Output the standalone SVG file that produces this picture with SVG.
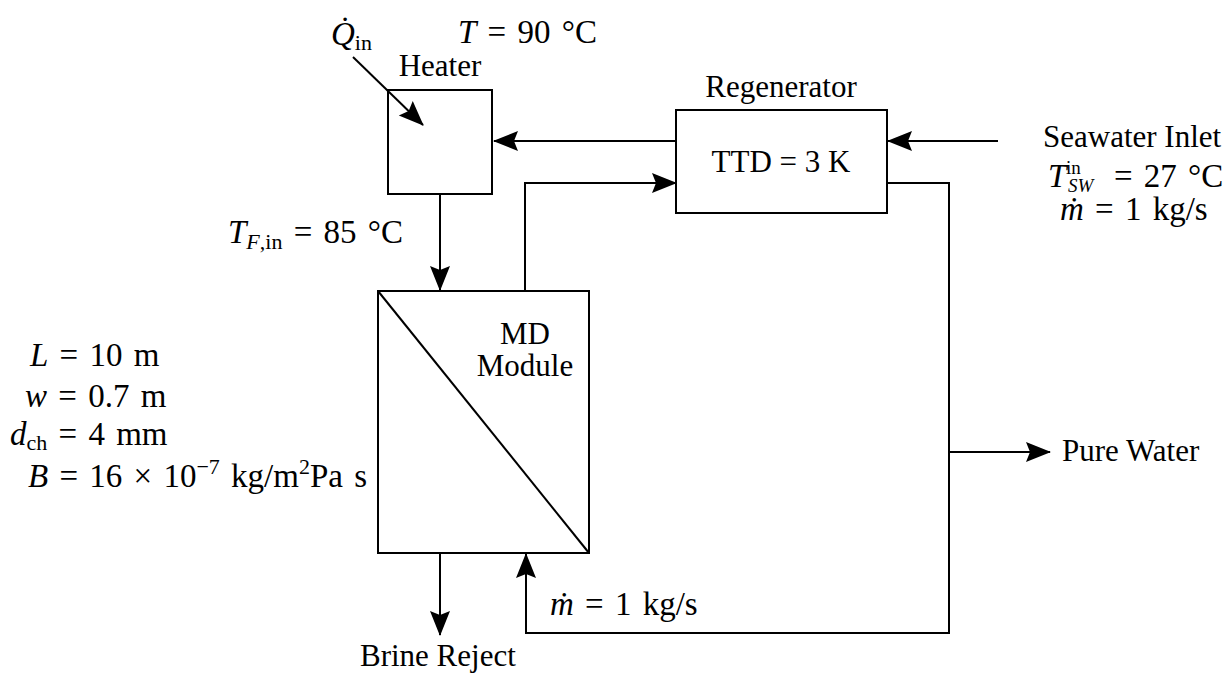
<svg xmlns="http://www.w3.org/2000/svg" width="1227" height="675" viewBox="0 0 1227 675">
<style>
.box{fill:#fff;stroke:#000;stroke-width:2}
.ln{fill:none;stroke:#000;stroke-width:2}
text{font-family:"Liberation Serif","DejaVu Serif",serif;font-size:31px;fill:#000}
.m{font-size:33px;word-spacing:3px}
.i{font-style:italic}
.s{font-size:22px}
.ss{font-size:19px}
</style>
<defs>
<marker id="ah" markerUnits="userSpaceOnUse" markerWidth="28" markerHeight="24" viewBox="-26 -12 27 24" refX="0" refY="0" orient="auto">
<path d="M1,0 L-24,-10 L-20,0 L-24,10 Z" fill="#000"/>
</marker>
</defs>
<rect width="1227" height="675" fill="#fff"/>
<g id="heater">
<rect class="box" x="388" y="90" width="104" height="104"/>
<text x="440" y="76" text-anchor="middle">Heater</text>
</g>
<g id="regenerator">
<rect class="box" x="676" y="110" width="211" height="103"/>
<text x="781" y="97" text-anchor="middle">Regenerator</text>
<text x="781" y="172" text-anchor="middle">TTD = 3 K</text>
</g>
<g id="md-module">
<rect class="box" x="378" y="291" width="211" height="262"/>
<line class="ln" x1="378" y1="291" x2="589" y2="553"/>
<text x="525" y="344" text-anchor="middle">MD</text>
<text x="525" y="376" text-anchor="middle">Module</text>
</g>
<g id="connectors">
<path class="ln" d="M353,57 L423,125" marker-end="url(#ah)"/>
<path class="ln" d="M676,141 H494" marker-end="url(#ah)"/>
<path class="ln" d="M998,141 H888" marker-end="url(#ah)"/>
<path class="ln" d="M440,194 V290" marker-end="url(#ah)"/>
<path class="ln" d="M525,290 V183 H676" marker-end="url(#ah)"/>
<path class="ln" d="M887,183 H949 V633 H526 V554" marker-end="url(#ah)"/>
<path class="ln" d="M949,452 H1050" marker-end="url(#ah)"/>
<path class="ln" d="M440,553 V635" marker-end="url(#ah)"/>
</g>
<g id="labels">
<text class="m" x="331" y="45"><tspan class="i">Q̇</tspan><tspan class="s" dy="5">in</tspan></text>
<text class="m" x="458" y="43"><tspan class="i">T</tspan> = 90 °C</text>
<text class="m" x="228" y="243"><tspan class="i">T</tspan><tspan class="s" dy="6"><tspan class="i">F</tspan>,in</tspan><tspan dy="-6"> = 85 °C</tspan></text>
<text x="1043" y="147">Seawater Inlet</text>
<text class="m" x="1048" y="187"><tspan class="i">T</tspan><tspan class="ss i" x="1068" dy="5">SW</tspan><tspan class="ss" x="1066" dy="-18">in</tspan><tspan x="1114" dy="13">= 27 °C</tspan></text>
<text class="m" x="1060" y="220"><tspan class="i">ṁ</tspan> = 1 kg/s</text>
<text x="1062" y="461">Pure Water</text>
<text x="360" y="666">Brine Reject</text>
<text class="m" x="550" y="615"><tspan class="i">ṁ</tspan> = 1 kg/s</text>
<text class="m" x="30" y="366"><tspan class="i">L</tspan> = 10 m</text>
<text class="m" x="25" y="407"><tspan class="i">w</tspan> = 0.7 m</text>
<text class="m" x="10" y="445"><tspan class="i">d</tspan><tspan class="s" dy="5">ch</tspan><tspan dy="-5"> = 4 mm</tspan></text>
<text class="m" x="28" y="487"><tspan class="i">B</tspan> = 16 × 10<tspan class="s" dy="-13">−7</tspan><tspan dy="13"> kg/m</tspan><tspan class="s" dy="-13">2</tspan><tspan dy="13">Pa s</tspan></text>
</g>
</svg>
